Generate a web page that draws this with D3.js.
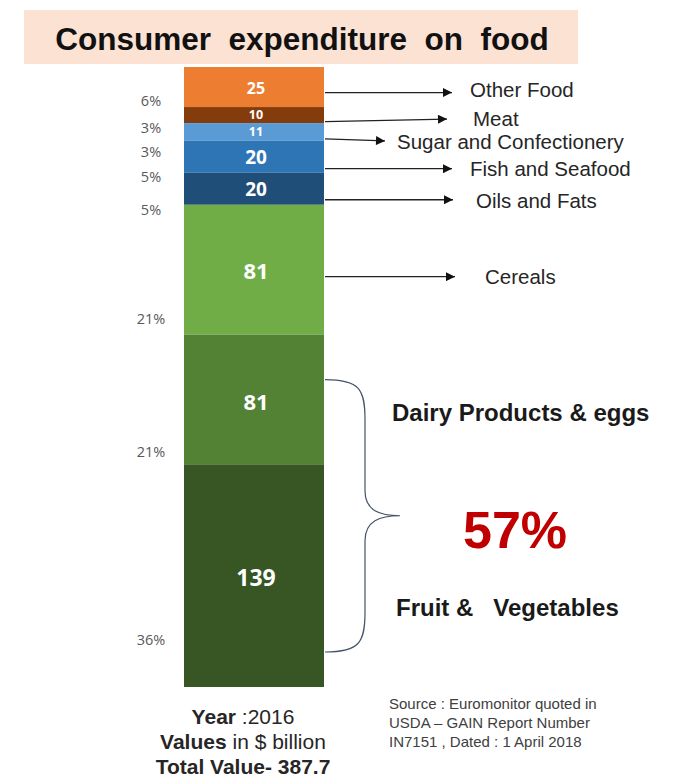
<!DOCTYPE html>
<html><head><meta charset="utf-8">
<script src="https://cdn.jsdelivr.net/npm/d3@7"></script>
<style>body{margin:0;background:#fff}svg{display:block}text{white-space:pre}</style>
</head><body>
<script>
// ---- data ----
const categories = ["Other Food","Meat","Sugar and Confectionery","Fish and Seafood","Oils and Fats","Cereals","Dairy Products & eggs","Fruit &   Vegetables"];
const values = [25,10,11,20,20,81,81,139];
const pctLabels = ["6%","3%","3%","5%","5%","21%","21%","36%"];
const colors = ["#ed7d31","#843c0c","#5b9bd5","#2e75b6","#1f4e79","#70ad47","#548235","#375623"];
const title = "Consumer  expenditure  on  food";
const bigPct = "57%";
const footer = [["Year"," :2016"],["Values"," in $ billion"],["Total Value- 387.7",""]];
const source = ["Source : Euromonitor quoted in","USDA \u2013 GAIN Report Number","IN7151 , Dated : 1 April 2018"];

// ---- layout ----
const W=680,H=780;
const FONT="Liberation Sans, Arial, sans-serif";
const svg=d3.select("body").append("svg").attr("width",W).attr("height",H);
const bar={x0:184,x1:324,top:67,bottom:687};
const total=d3.sum(values);
const y=d3.scaleLinear().domain([0,total]).range([bar.top,bar.bottom]);
const cum=[0,...d3.cumsum(values)];
const segs=values.map((v,i)=>({v,i,a:cum[i],b:cum[i+1]}));

// title box
svg.append("rect").attr("x",24).attr("y",10).attr("width",554).attr("height",54).attr("fill","#fbe2d3");
svg.append("text").attr("x",302).attr("y",50).attr("text-anchor","middle")
 .attr("font-family",FONT).attr("font-weight","bold").attr("font-size",31.5)
 .attr("fill","#111").text(title);

// segments
svg.selectAll("rect.seg").data(segs).enter().append("rect").attr("class","seg")
 .attr("x",bar.x0).attr("width",bar.x1-bar.x0)
 .attr("y",d=>y(d.a)).attr("height",d=>y(d.b)-y(d.a)).attr("fill",d=>colors[d.i]);

// value labels
const valSize=[16,12.5,12.5,19,19,22,22,23];
const valNudge=[1,0,0,1,1,2,3,2];
svg.selectAll("text.val").data(segs).enter().append("text").attr("class","val")
 .attr("x",(bar.x0+bar.x1)/2+2).attr("y",d=>(y(d.a)+y(d.b))/2+valNudge[d.i])
 .attr("dy","0.35em").attr("text-anchor","middle")
 .attr("font-family","Open Sans, sans-serif").attr("font-weight","bold")
 .attr("font-size",d=>valSize[d.i]).attr("fill","#fff").text(d=>d.v);

// percent labels (relative to segment bottom)
const pctNudge=[-6,5,11,4,5,-16,-12,-47];
svg.selectAll("text.pct").data(segs).enter().append("text").attr("class","pct")
 .attr("x",151).attr("y",d=>y(d.b)+pctNudge[d.i]).attr("dy","0.35em").attr("text-anchor","middle")
 .attr("font-family","Open Sans, sans-serif").attr("font-size",14.5).attr("fill","#595959")
 .text(d=>pctLabels[d.i]);

// arrows
const defs=svg.append("defs");
defs.append("marker").attr("id","ah").attr("viewBox","0 0 10 10").attr("refX",10).attr("refY",5)
 .attr("markerWidth",10).attr("markerHeight",9).attr("markerUnits","userSpaceOnUse").attr("orient","auto")
 .append("path").attr("d","M0,0L10,5L0,10Z").attr("fill","#111");
const arrowCfg=[ // [startDy, endDy, tipX, textX, textDy]
 [5.5,5.5,452,470,3],[6.6,4,447,473,4],[7,9,385,397,10],[12,12,452,470,12],[11,11,453,476,12],[7,7,455,485,7]];
arrowCfg.forEach((c,i)=>{
  const s=segs[i], cy=(y(s.a)+y(s.b))/2;
  svg.append("line").attr("x1",bar.x1+1).attr("y1",cy+c[0]).attr("x2",c[2]).attr("y2",cy+c[1])
   .attr("stroke","#222").attr("stroke-width",1.3).attr("marker-end","url(#ah)");
  svg.append("text").attr("x",c[3]).attr("y",cy+c[4]).attr("dy","0.35em")
   .attr("font-family",FONT).attr("font-size",20.5).attr("fill","#262626")
   .text(categories[i]);
});

// brace over dairy + fruit
const bTop=y(cum[6])+45, bBot=y(cum[8])-35, bMid=(bTop+bBot)/2;
const xl=bar.x1+1, xv=365, xt=400;
const bp=d3.path();
bp.moveTo(xl,bTop);
bp.bezierCurveTo(xv-5,bTop,xv,bTop+10,xv,bTop+40);
bp.lineTo(xv,bMid-25);
bp.bezierCurveTo(xv,bMid-5,xv+15,bMid,xt,bMid);
bp.bezierCurveTo(xv+15,bMid,xv,bMid+5,xv,bMid+25);
bp.lineTo(xv,bBot-40);
bp.bezierCurveTo(xv,bBot-10,xv-5,bBot,xl,bBot);
svg.append("path").attr("d",bp.toString()).attr("fill","none").attr("stroke","#44546a").attr("stroke-width",1.2);

svg.append("text").attr("x",392).attr("y",421).attr("font-family",FONT)
 .attr("font-weight","bold").attr("font-size",24).attr("fill","#1a1a1a").text(categories[6]);
svg.append("text").attr("x",396).attr("y",616).attr("font-family",FONT)
 .attr("font-weight","bold").attr("font-size",24).attr("fill","#1a1a1a").text(categories[7]);
svg.append("text").attr("x",463).attr("y",548).attr("font-family",FONT)
 .attr("font-weight","bold").attr("font-size",52).attr("fill","#c00000").text(bigPct);

// footer
footer.forEach((f,i)=>{
  const t=svg.append("text").attr("x",243).attr("y",724+i*25).attr("text-anchor","middle")
   .attr("font-family",FONT).attr("font-size",21).attr("fill","#262626");
  t.append("tspan").attr("font-weight","bold").text(f[0]);
  if(f[1]) t.append("tspan").text(f[1]);
});
// source
svg.selectAll("text.src").data(source).enter().append("text").attr("class","src")
 .attr("x",389).attr("y",(d,i)=>709+i*19).attr("font-family",FONT)
 .attr("font-size",15).attr("fill","#404040").text(d=>d);
</script>
</body></html>
